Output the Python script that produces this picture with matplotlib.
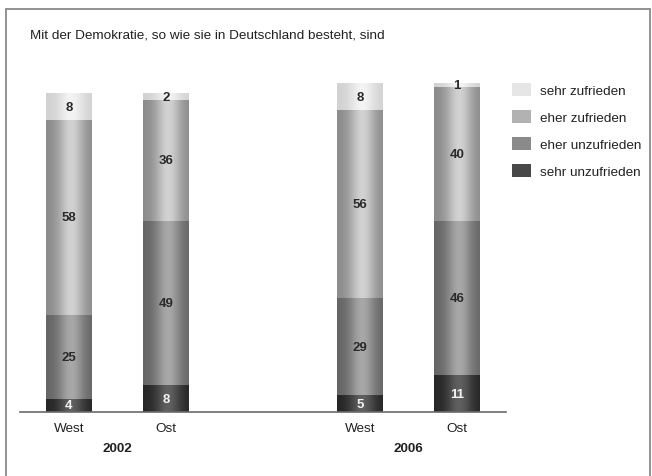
import numpy as np
import matplotlib
matplotlib.use("Agg")
import matplotlib.pyplot as plt
from matplotlib.patches import Patch, Rectangle
from matplotlib.transforms import blended_transform_factory

plt.rcParams['font.family'] = ['Liberation Sans', 'DejaVu Sans']

# Survey data: satisfaction with democracy in Germany (percent)
groups = ["West", "Ost", "West", "Ost"]
years = ["2002", "2006"]
categories = ["sehr unzufrieden", "eher unzufrieden", "eher zufrieden", "sehr zufrieden"]
sehr_unzufrieden = [4, 8, 5, 11]
eher_unzufrieden = [25, 49, 29, 46]
eher_zufrieden = [58, 36, 56, 40]
sehr_zufrieden = [8, 2, 8, 1]
series = [sehr_unzufrieden, eher_unzufrieden, eher_zufrieden, sehr_zufrieden]

positions = [0, 1, 3, 4]

# cylinder shading: (edge colour, highlight colour, flat legend colour)
shades = {
    "sehr unzufrieden": ("#262626", "#606060", "#484848"),
    "eher unzufrieden": ("#666666", "#a8a8a8", "#8a8a8a"),
    "eher zufrieden": ("#8c8c8c", "#d2d2d2", "#b2b2b2"),
    "sehr zufrieden": ("#d2d2d2", "#f4f4f4", "#e6e6e6"),
}
text_colors = {"sehr unzufrieden": "#f2f2f2", "eher unzufrieden": "#2a2a2a",
               "eher zufrieden": "#2a2a2a", "sehr zufrieden": "#2a2a2a"}

W, H = 652, 477
fig = plt.figure(figsize=(W / 100, H / 100), dpi=100)
fig.patch.set_facecolor("white")

# outer frame
fig.add_artist(Rectangle((6 / W, -0.05), 644 / W, (H - 10) / H + 0.05,
                         transform=fig.transFigure, fill=False,
                         edgecolor="#8a8a8a", lw=1.3))

fig.text(30 / W, 1 - 36 / H, "Mit der Demokratie, so wie sie in Deutschland besteht, sind",
         fontsize=9.7, color="#222222", va="center", ha="left")

ax = fig.add_axes([20 / W, 64 / H, 486 / W, 353 / H])
ax.set_facecolor("none")

def hex_rgb(h):
    h = h.lstrip("#")
    return np.array([int(h[i:i + 2], 16) / 255 for i in (0, 2, 4)])

# horizontal light profile across each bar, peak slightly right of centre
t = np.linspace(0, 1, 160)
profile = np.exp(-((t - 0.55) / 0.28) ** 2)
profile = (profile - profile.min()) / (profile.max() - profile.min())

bottoms = np.zeros(len(positions))
width = 0.474
for cat, vals in zip(categories, series):
    edge, center, flat = shades[cat]
    e, c = hex_rgb(edge), hex_rgb(center)
    grad = (e[None, :] + (c - e)[None, :] * profile[:, None])[None, :, :]
    bars = ax.bar(positions, vals, width=width, bottom=bottoms,
                  color=flat, linewidth=0, zorder=1)
    for bar, v in zip(bars, vals):
        x0, y0 = bar.get_x(), bar.get_y()
        ax.imshow(grad, extent=[x0, x0 + bar.get_width(), y0, y0 + bar.get_height()],
                  aspect="auto", interpolation="bilinear", zorder=2)
        ax.text(x0 + bar.get_width() / 2, y0 + bar.get_height() / 2, str(v),
                ha="center", va="center", fontsize=9.5, fontweight="bold",
                color=text_colors[cat], zorder=3)
    bottoms += np.array(vals)

ax.set_xlim(-0.505, 4.505)
ax.set_ylim(0, 105.2)
ax.set_aspect("auto")

for s in ["top", "right", "left"]:
    ax.spines[s].set_visible(False)
ax.spines["bottom"].set_color("#6a6a6a")
ax.spines["bottom"].set_linewidth(1.2)
ax.set_yticks([])
ax.set_xticks(positions)
ax.set_xticklabels(groups, fontsize=9.7, color="#222222")
ax.tick_params(axis="x", length=0, pad=7)

trans = blended_transform_factory(ax.transData, fig.transFigure)
for i, yr in enumerate(years):
    xc = (positions[2 * i] + positions[2 * i + 1]) / 2
    fig.text(xc, 1 - 449 / H, yr, transform=trans, fontsize=9.7, fontweight="bold",
             color="#222222", ha="center", va="center")

handles = [Patch(facecolor=shades[c][2], edgecolor="none") for c in reversed(categories)]
fig.legend(handles, list(reversed(categories)), loc="upper left",
           bbox_to_anchor=(512 / W, 1 - 84 / H), frameon=False, fontsize=9.7,
           handlelength=1.4, handleheight=1.1, handletextpad=0.65,
           labelspacing=0.97, borderpad=0, borderaxespad=0, labelcolor="#222222")

fig.savefig("out.png", dpi=100, facecolor="white")
